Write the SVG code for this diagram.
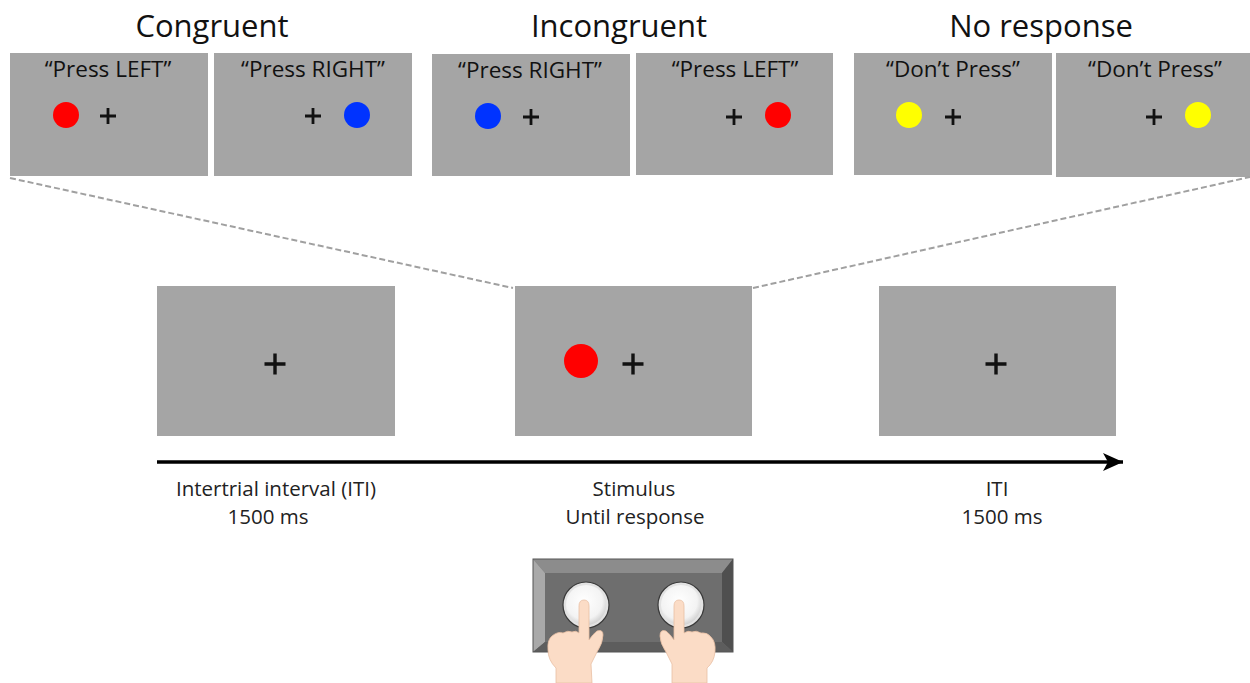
<svg xmlns="http://www.w3.org/2000/svg" width="1250" height="683" viewBox="0 0 1250 683">
  <defs>
    <style>
      .screen { fill: #a5a5a5; }
      .title { font-family: "Open Sans", "Liberation Sans", sans-serif; font-size: 31px; fill: #111; text-anchor: middle; }
      .cue { font-family: "Open Sans", "Liberation Sans", sans-serif; font-size: 22.5px; fill: #111; text-anchor: middle; }
      .caption { font-family: "Open Sans", "Liberation Sans", sans-serif; font-size: 20.5px; fill: #222; text-anchor: middle; }
      .fix { stroke: #111; stroke-width: 2.8; fill: none; }
      .fixbig { stroke: #111; stroke-width: 3.4; fill: none; }
      .zoomline { stroke: #a0a0a0; stroke-width: 2; stroke-dasharray: 6 3; fill: none; }
      .skin { fill: #fbdcc6; stroke: #e9bfa3; stroke-width: 0.8; }
    </style>
    <radialGradient id="btnFace" cx="0.45" cy="0.4" r="0.65">
      <stop offset="0" stop-color="#ffffff"/>
      <stop offset="0.7" stop-color="#f3f3f3"/>
      <stop offset="1" stop-color="#c9c9c9"/>
    </radialGradient>
    <marker id="head" markerWidth="22" markerHeight="20" viewBox="0 0 22 20" refX="20" refY="10" orient="auto" markerUnits="userSpaceOnUse">
      <path d="M0,1 L20,10 L0,19 L5,10 Z" fill="#000"/>
    </marker>
  </defs>

  <!-- condition titles -->
  <text class="title" x="212" y="37">Congruent</text>
  <text class="title" x="619" y="37">Incongruent</text>
  <text class="title" x="1041" y="37">No response</text>

  <!-- Congruent: press left -->
  <g id="cong-left">
    <rect class="screen" x="10" y="53" width="198" height="123"/>
    <text class="cue" x="108" y="77">“Press LEFT”</text>
    <circle cx="66" cy="115" r="13" fill="#ff0000"/>
    <path class="fix" d="M100,116 h16 M108,108 v16"/>
  </g>

  <!-- Congruent: press right -->
  <g id="cong-right">
    <rect class="screen" x="214" y="53" width="198" height="123"/>
    <text class="cue" x="313" y="77">“Press RIGHT”</text>
    <circle cx="357" cy="115" r="13" fill="#0033ff"/>
    <path class="fix" d="M305,116 h16 M313,108 v16"/>
  </g>

  <!-- Incongruent: press right -->
  <g id="incong-right">
    <rect class="screen" x="432" y="54" width="198" height="122"/>
    <text class="cue" x="530" y="78">“Press RIGHT”</text>
    <circle cx="488" cy="116" r="13" fill="#0033ff"/>
    <path class="fix" d="M523,117 h16 M531,109 v16"/>
  </g>

  <!-- Incongruent: press left -->
  <g id="incong-left">
    <rect class="screen" x="636" y="53" width="197" height="122"/>
    <text class="cue" x="735" y="77">“Press LEFT”</text>
    <circle cx="778" cy="115" r="13" fill="#ff0000"/>
    <path class="fix" d="M726,117 h16 M734,109 v16"/>
  </g>

  <!-- No response: left -->
  <g id="nogo-left">
    <rect class="screen" x="854" y="53" width="198" height="122"/>
    <text class="cue" x="953" y="77">“Don’t Press”</text>
    <circle cx="909" cy="115" r="13" fill="#ffff00"/>
    <path class="fix" d="M945,117 h16 M953,109 v16"/>
  </g>

  <!-- No response: right -->
  <g id="nogo-right">
    <rect class="screen" x="1056" y="53" width="194" height="124"/>
    <text class="cue" x="1155" y="77">“Don’t Press”</text>
    <circle cx="1198" cy="115" r="13" fill="#ffff00"/>
    <path class="fix" d="M1146,117 h16 M1154,109 v16"/>
  </g>

  <!-- trial sequence -->
  <g id="iti-1">
    <rect class="screen" x="157" y="286" width="238" height="150"/>
    <path class="fixbig" d="M264.5,364 h21 M275,353.5 v21"/>
  </g>

  <g id="stimulus">
    <rect class="screen" x="515" y="286" width="237" height="150"/>
    <circle cx="581" cy="361" r="17" fill="#ff0000"/>
    <path class="fixbig" d="M622.5,364 h21 M633,353.5 v21"/>
  </g>

  <g id="iti-2">
    <rect class="screen" x="879" y="286" width="237" height="150"/>
    <path class="fixbig" d="M985.5,364 h21 M996,353.5 v21"/>
  </g>

  <!-- connectors -->
  <g id="connectors">
    <path class="zoomline" d="M10,178 L513,288"/>
    <path class="zoomline" d="M753,288 L1250,177"/>
    <path d="M157,462 L1123,462" stroke="#000" stroke-width="3.5" fill="none" marker-end="url(#head)"/>
  </g>

  <!-- timeline captions -->
  <g id="caption-iti-1">
    <text class="caption" x="276" y="496">Intertrial interval (ITI)</text>
    <text class="caption" x="268" y="524">1500 ms</text>
  </g>
  <g id="caption-stimulus">
    <text class="caption" x="634" y="496">Stimulus</text>
    <text class="caption" x="635" y="524">Until response</text>
  </g>
  <g id="caption-iti-2">
    <text class="caption" x="997" y="496">ITI</text>
    <text class="caption" x="1002" y="524">1500 ms</text>
  </g>

  <!-- response box with two buttons and hands -->
  <g id="response-box">
    <rect x="533" y="559" width="200" height="93" fill="#6c6c6c"/>
    <polygon points="533,559 733,559 722,573 545,573" fill="#8c8c8c"/>
    <polygon points="533,559 545,573 545,642 533,652" fill="#a9a9a9"/>
    <polygon points="733,559 722,573 722,642 733,652" fill="#4f4f4f"/>
    <polygon points="533,652 545,642 722,642 733,652" fill="#5d5d5d"/>
    <rect x="545" y="573" width="177" height="69" fill="#6e6e6e"/>
    <rect x="533" y="559" width="200" height="93" fill="none" stroke="#555" stroke-width="1"/>

    <circle cx="586" cy="605" r="23" fill="#e2e2e2" stroke="#3a3a3a" stroke-width="1.2"/>
    <circle cx="586" cy="605" r="20" fill="url(#btnFace)"/>
    <circle cx="681" cy="605" r="23" fill="#e2e2e2" stroke="#3a3a3a" stroke-width="1.2"/>
    <circle cx="681" cy="605" r="20" fill="url(#btnFace)"/>

    <!-- left hand -->
    <path class="skin" d="M579,606 Q579,600 584,600 Q589,600 589,606 L589,640
      Q593,634 597,631 Q603,629 603,635 Q603,643 597,652 L591,664 L592,683 L556,683 L556,668
      Q548,660 548,650 Q547,640 552,636 Q558,631 563,633 Q568,630 572,632 Q576,630 579,633 Z"/>
    <!-- right hand -->
    <path class="skin" d="M674,606 Q674,600 679,600 Q684,600 684,606 L684,633
      Q688,630 692,632 Q696,630 701,633 Q707,632 711,637 Q716,642 715,652 Q714,662 707,668 L707,683 L672,683 L672,664
      L666,652 Q660,643 660,636 Q660,629 666,631 Q670,634 674,640 Z"/>
  </g>
</svg>
